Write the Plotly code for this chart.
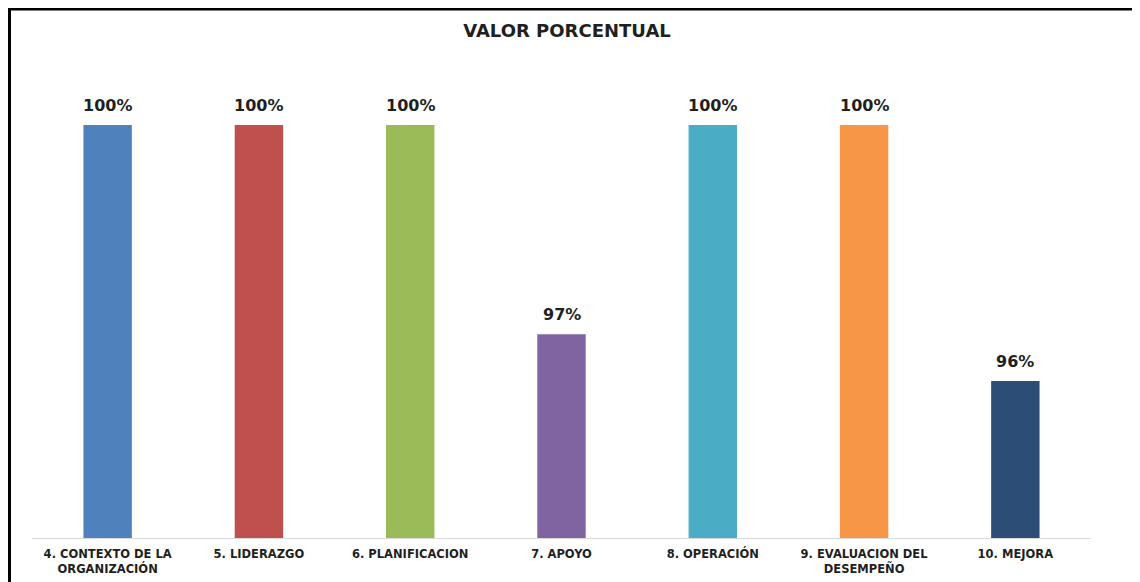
import plotly.graph_objects as go

categories = [
    "4. CONTEXTO DE LA<br>ORGANIZACIÓN",
    "5. LIDERAZGO",
    "6. PLANIFICACION",
    "7. APOYO",
    "8. OPERACIÓN",
    "9. EVALUACION DEL<br>DESEMPEÑO",
    "10. MEJORA",
]
values = [100, 100, 100, 96.96, 100, 100, 96.28]
colors = ["#4F81BD", "#C0504D", "#9BBB59", "#8064A2", "#4BACC6", "#F79646", "#2C4D75"]

# the page shows the figure offset by the 8px body margin
W, H = 1140, 582
OFF = 8
ml = 32 - OFF
mt = 60 - OFF
mr = W - (1091 - OFF)
mb = H - (538 - OFF)
pw = W - ml - mr
ph = H - mt - mb

def px_x(px):
    return (px - ml) / pw

def px_y(py):
    return (H - mb - py) / ph

FONT = "DejaVu Sans, sans-serif"

fig = go.Figure(
    go.Bar(
        x=categories,
        y=values,
        marker=dict(color=colors, line=dict(width=0)),
        cliponaxis=False,
        width=0.32,
        hovertemplate="%{y:.0f}%<extra></extra>",
    )
)

annotations = [
    dict(
        x=c,
        y=v,
        xref="x",
        yref="y",
        text=f"<b>{v:.0f}%</b>",
        showarrow=False,
        yanchor="bottom",
        yshift=8,
        font=dict(family=FONT, size=16, color="#1F1F1F"),
    )
    for c, v in zip(categories, values)
]

fig.update_layout(
    width=W,
    height=H,
    margin=dict(l=ml, r=mr, t=mt, b=mb),
    paper_bgcolor="white",
    plot_bgcolor="white",
    showlegend=False,
    title=dict(
        text="<b>VALOR PORCENTUAL</b>",
        x=(567 - OFF) / W,
        xref="container",
        y=1 - (31 - OFF) / H,
        yref="container",
        xanchor="center",
        yanchor="middle",
        font=dict(family=FONT, size=18, color="#1F1F1F"),
    ),
    font=dict(family=FONT),
    xaxis=dict(
        showline=True,
        linecolor="#D9D9D9",
        linewidth=1,
        showgrid=False,
        ticks="",
        ticklabelstandoff=5,
        tickfont=dict(family=FONT, size=11.5, color="#1F1F1F", weight="bold"),
    ),
    yaxis=dict(
        range=[94, 94 + ph / (413 / 6)],
        visible=False,
        showgrid=False,
        zeroline=False,
    ),
    annotations=annotations,
    shapes=[
        dict(
            type="path",
            xref="paper",
            yref="paper",
            path=f"M {px_x(1)} {px_y(H + 10)} L {px_x(1)} {px_y(0.5)} L {px_x(W + 10)} {px_y(0.5)}",
            line=dict(color="black", width=4),
        )
    ],
)

fig.write_html("out.html")
